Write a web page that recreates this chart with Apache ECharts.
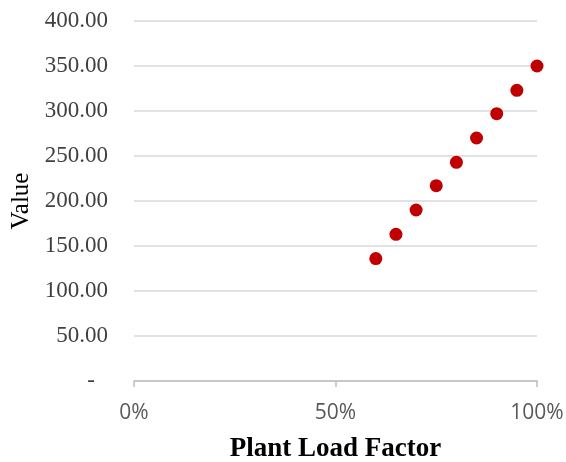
<!DOCTYPE html>
<html><head><meta charset="utf-8">
<script src="https://cdn.jsdelivr.net/npm/echarts@6/dist/echarts.min.js"></script>
<style>html,body{margin:0;padding:0;background:#fff}#c{width:566px;height:462px}</style>
</head><body><div id="c"></div>
<script>
var plantLoadFactor = [0.60, 0.65, 0.70, 0.75, 0.80, 0.85, 0.90, 0.95, 1.00];
var values = [136, 163, 190, 217, 243, 270, 297, 323, 350];
var xTicks = [0, 0.5, 1];
var yTickStep = 50;

var chart = echarts.init(document.getElementById('c'));
chart.setOption({
  animation: false,
  grid: {left: 134, right: 29, top: 21, bottom: 81, containLabel: false, outerBoundsMode: 'none'},
  xAxis: {
    type: 'value', min: 0, max: 1, interval: 0.5,
    name: 'Plant Load Factor', nameLocation: 'middle', nameGap: 55,
    nameTextStyle: {fontFamily: 'Liberation Serif', fontWeight: 'bold', fontSize: 27, color: '#000'},
    axisLine: {show: true, lineStyle: {color: '#bfbfbf', width: 1.5}},
    axisTick: {show: true, length: 6, lineStyle: {color: '#bfbfbf', width: 1.5}},
    splitLine: {show: false},
    axisLabel: {margin: 22, fontFamily: 'Open Sans', fontSize: 21, color: '#595959',
      formatter: function (v) { return Math.round(v * 100) + '%'; }}
  },
  yAxis: {
    type: 'value', min: 0, max: 400, interval: yTickStep,
    name: 'Value', nameLocation: 'middle', nameGap: 98,
    nameTextStyle: {fontFamily: 'Liberation Serif', fontSize: 25, color: '#000'},
    axisLine: {show: false}, axisTick: {show: false},
    splitLine: {lineStyle: {color: '#d9d9d9', width: 1.5}},
    axisLabel: {margin: 26, fontFamily: 'Liberation Serif', fontSize: 23, color: '#404040',
      formatter: function (v) { return v === 0 ? '{d|-}' : v.toFixed(2); },
      rich: {d: {fontFamily: 'Liberation Serif', fontSize: 23, color: '#404040', padding: [0, 13, 0, 0]}}}
  },
  series: [{
    type: 'scatter', symbol: 'circle', symbolSize: 13,
    itemStyle: {color: '#c00000', opacity: 1},
    data: plantLoadFactor.map(function (x, i) { return [x, values[i]]; })
  }]
});
</script></body></html>
